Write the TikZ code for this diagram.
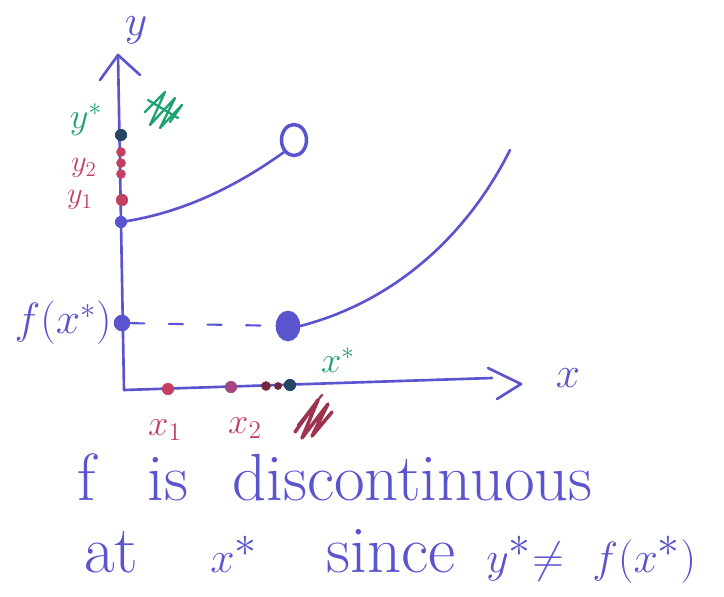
\documentclass[tikz,border=0pt]{standalone}
\usepackage{amsmath}
\usepackage{tikz}
\usetikzlibrary{positioning,calc,shapes.geometric}
\definecolor{ink}{RGB}{90,84,206}
\definecolor{redink}{RGB}{196,64,96}
\definecolor{greenink}{RGB}{30,162,112}
\definecolor{darkink}{RGB}{36,70,96}
\begin{document}
\begin{tikzpicture}[
  x=0.02cm,y=-0.02cm,
  ink/.style={draw=ink,line width=1.5pt,line cap=round,line join=round},
  dot/.style={circle,fill=#1,draw=#1,inner sep=0pt,minimum size=6.5pt},
  hole/.style={ellipse,draw=ink,line width=2pt,fill=white,
               minimum width=0.5cm,minimum height=0.62cm,inner sep=0pt},
  full/.style={ellipse,draw=ink,line width=1.5pt,fill=ink,
               minimum width=0.44cm,minimum height=0.56cm,inner sep=0pt},
  lbl/.style={text=#1,inner sep=1pt},
  word/.style={text=ink,inner sep=0pt,anchor=base west,
               font=\fontsize{38}{38}\selectfont},
  scrib/.style={draw=#1,line width=1.3pt,line cap=round,line join=round},
]
  \useasboundingbox (0,0) rectangle (724,596);

  % axes
  \coordinate (o) at (124,390);
  \coordinate (ytop) at (118,55);
  \coordinate (xend) at (492,378);
  \draw[ink] (o) -- (ytop);
  \draw[ink] (100,80) -- (ytop) -- (140,75);
  \draw[ink] (o) -- (xend);
  \draw[ink] (488,368) -- (521,384) -- (497,399);
  \node[lbl=ink,font=\fontsize{32}{32}\selectfont,anchor=base] (ylab) at (136,35) {$y$};
  \node[lbl=ink,font=\fontsize{34}{34}\selectfont] (xlab) at (568,378) {$x$};

  % the two branches
  \node[dot=ink] (jump) at (121,222) {};
  \node[hole] (open) at (294,140) {};
  \node[full] (closed) at (288,326) {};
  \node[dot=ink,minimum size=9pt] (fx) at (122,323) {};
  \draw[ink] (121,222) .. controls (190,212) and (245,180) .. (open.south west);
  \draw[ink] (closed.east) .. controls (400,300) and (470,230) .. (510,150);
  \draw[ink,line width=1.2pt,dash pattern=on 8pt off 14pt] (fx) -- (closed);
  \node[lbl=ink,font=\fontsize{24}{24}\selectfont,left=0pt of fx] (fxlab) {$f(x^*)$};

  % points on the y axis
  \node[dot=darkink] (ystar) at (121,135) {};
  \node[dot=redink,minimum size=5pt] (y2a) at (121,152) {};
  \node[dot=redink,minimum size=5pt] (y2b) at (121,163) {};
  \node[dot=redink,minimum size=5pt] (y2c) at (121,174) {};
  \node[dot=redink] (y1) at (122,200) {};
  \node[lbl=greenink,font=\fontsize{20}{20}\selectfont] (ystarlab) at (86,120) {$y^*$};
  \node[lbl=redink,font=\fontsize{17}{17}\selectfont] (y2lab) at (84,168) {$y_2$};
  \node[lbl=redink,font=\fontsize{17}{17}\selectfont] (y1lab) at (80,200) {$y_1$};

  % points on the x axis
  \node[dot=redink] (x1) at (168,389) {};
  \node[dot=redink!70!ink] (x2) at (231,387) {};
  \node[dot=redink!60!black,minimum size=5pt] (xa) at (266,386) {};
  \node[dot=redink!60!black,minimum size=4pt] (xb) at (278,386) {};
  \node[dot=darkink] (xstar) at (290,385) {};
  \node[lbl=redink,font=\fontsize{20}{20}\selectfont] (x1lab) at (165,430) {$x_1$};
  \node[lbl=redink,font=\fontsize{20}{20}\selectfont] (x2lab) at (245,428) {$x_2$};
  \node[lbl=greenink,font=\fontsize{20}{20}\selectfont] (xstarlab) at (338,360) {$x^*$};

  % crossed-out marks
  \draw[scrib=greenink] (145,112) -- (165,92) -- (150,125) -- (175,98) -- (160,128)
    -- (182,105) -- (170,122);
  \draw[scrib=greenink] (148,100) -- (178,118);
  \draw[scrib=redink!80!black,line width=2pt] (295,432) -- (318,400) -- (302,438)
    -- (328,404) -- (312,436) -- (332,412);
  \draw[scrib=redink!80!black] (298,425) -- (322,395);

  % caption, word by word
  \node[word] (w1) at (77,500) {f};
  \node[word] (w2) at (147,500) {is};
  \node[word] (w3) at (232,500) {discontinuous};
  \node[word] (w4) at (84,572) {at};
  \node[word] (w5) at (210,572) {$x^*$};
  \node[word] (w6) at (326,572) {since};
  \node[word] (w7) at (486,572) {$y^*$};
  \node[word] (w8) at (532,572) {$\neq$};
  \node[word,font=\fontsize{40}{40}\selectfont] (w9) at (592,572) {$f(x^*)$};
\end{tikzpicture}
\end{document}
